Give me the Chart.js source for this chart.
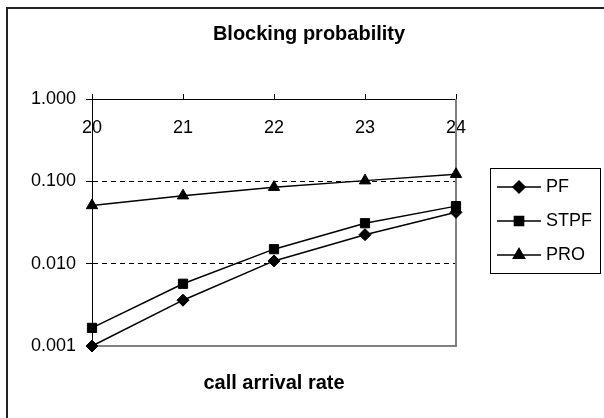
<!DOCTYPE html>
<html>
<head>
<meta charset="utf-8">
<script src="https://cdn.jsdelivr.net/npm/chart.js@4"></script>
<style>
  body { margin: 0; background: #fff; }
  #wrap { width: 604px; height: 418px; }
</style>
</head>
<body>
<div id="wrap"><canvas id="blockingChart" width="604" height="418"></canvas></div>
<script>
// values
var arrivalRates = ['20', '21', '22', '23', '24'];
var pfValues   = [0.001,  0.0036, 0.0108, 0.0225, 0.042];
var stpfValues = [0.00166, 0.0057, 0.015, 0.031, 0.050];
var proValues  = [0.051,  0.067, 0.085, 0.102, 0.122];
var yTickValues = [0.001, 0.01, 0.1, 1];
var yTickLabels = ['0.001', '0.010', '0.100', '1.000'];

var FONT = '"Liberation Sans", Arial, sans-serif';

// frame round the whole chart (right and bottom sides fall outside the picture)
var outerFrame = {
    id: 'outerFrame',
    beforeDraw: function(chart) {
        var ctx = chart.ctx;
        ctx.save();
        ctx.fillStyle = '#fff';
        ctx.fillRect(0, 0, chart.width, chart.height);
        ctx.strokeStyle = '#222';
        ctx.lineWidth = 2;
        ctx.strokeRect(7, 8, chart.width + 20, chart.height + 20);
        ctx.restore();
    }
};

// grey right and bottom edges of the plot area
var plotBorder = {
    id: 'plotBorder',
    beforeDatasetsDraw: function(chart) {
        var a = chart.chartArea;
        var ctx = chart.ctx;
        ctx.save();
        ctx.strokeStyle = '#808080';
        ctx.lineWidth = 2;
        ctx.beginPath();
        ctx.moveTo(a.right, a.top);
        ctx.lineTo(a.right, a.bottom);
        ctx.lineTo(a.left, a.bottom);
        ctx.stroke();
        ctx.restore();
    }
};

// Excel-like legend: boxed, line with marker in the middle
var boxLegend = {
    id: 'boxLegend',
    afterDraw: function(chart) {
        var ctx = chart.ctx;
        var left = 490, top = 168, w = 110, h = 105;
        var rowY = [187, 221, 255];
        ctx.save();
        ctx.strokeStyle = '#000';
        ctx.lineWidth = 1;
        ctx.strokeRect(left + 0.5, top + 0.5, w, h);
        chart.data.datasets.forEach(function(ds, i) {
            var y = rowY[i];
            ctx.strokeStyle = '#000';
            ctx.lineWidth = 1.5;
            ctx.beginPath();
            ctx.moveTo(497, y);
            ctx.lineTo(541, y);
            ctx.stroke();
            ctx.fillStyle = '#000';
            Chart.helpers.drawPoint(ctx, {
                pointStyle: ds.pointStyle,
                radius: ds.pointRadius,
                borderWidth: 1,
                rotation: 0
            }, 519, y);
            ctx.fill();
            ctx.fillStyle = '#000';
            ctx.font = '18px ' + FONT;
            ctx.textBaseline = 'middle';
            ctx.textAlign = 'left';
            ctx.fillText(ds.label, 546, y);
        });
        ctx.restore();
    }
};

var ctx = document.getElementById('blockingChart').getContext('2d');
new Chart(ctx, {
    type: 'line',
    data: {
        labels: arrivalRates,
        datasets: [
            { label: 'PF', data: pfValues, pointStyle: 'rectRot', pointRadius: 6 },
            { label: 'STPF', data: stpfValues, pointStyle: 'rect', pointRadius: 6.5 },
            { label: 'PRO', data: proValues, pointStyle: 'triangle', pointRadius: 6.5 }
        ].map(function(ds) {
            ds.borderColor = '#000';
            ds.backgroundColor = '#000';
            ds.pointBackgroundColor = '#000';
            ds.pointBorderColor = '#000';
            ds.borderWidth = 1.5;
            ds.pointBorderWidth = 1;
            ds.tension = 0;
            ds.clip = false;
            ds.yAxisID = 'y';
            return ds;
        })
    },
    options: {
        responsive: false,
        animation: false,
        devicePixelRatio: 1,
        layout: { padding: { left: 14, right: 0, top: 0, bottom: 0 } },
        scales: {
            x: {
                type: 'category',
                position: { y: 1 },
                offset: false,
                grid: { display: true, drawOnChartArea: false, drawTicks: true, tickLength: -6, tickColor: '#000' },
                border: { display: true, color: '#000', width: 1 },
                ticks: { color: '#000', padding: 24, font: { family: FONT, size: 18 }, maxRotation: 0 }
            },
            y: {
                type: 'logarithmic',
                position: 'left',
                min: 0.001,
                max: 1,
                afterBuildTicks: function(scale) {
                    scale.ticks = yTickValues.map(function(v) { return { value: v }; });
                },
                afterFit: function(scale) { scale.width = 78; },
                grid: {
                    color: function(c) {
                        if (!c.tick) return 'rgba(0,0,0,0)';
                        var v = c.tick.value;
                        return (v > 0.001 && v < 1) ? '#000' : 'rgba(0,0,0,0)';
                    },
                    lineWidth: 1,
                    tickColor: '#000',
                    tickLength: 6,
                    tickBorderDash: []
                },
                border: { display: true, color: '#000', width: 1, dash: [5, 4] },
                ticks: {
                    color: '#000',
                    padding: 10,
                    font: { family: FONT, size: 18 },
                    callback: function(value) {
                        return yTickLabels[yTickValues.indexOf(value)];
                    }
                }
            },
            rightSpace: {
                type: 'linear',
                position: 'right',
                display: true,
                ticks: { display: false },
                grid: { display: false },
                border: { display: false },
                afterFit: function(scale) { scale.width = 148; }
            }
        },
        plugins: {
            legend: { display: false },
            tooltip: { enabled: false },
            title: {
                display: true,
                text: 'Blocking probability',
                color: '#000',
                font: { family: FONT, size: 20, weight: 'bold', lineHeight: 1.2 },
                padding: { top: 22, bottom: 53 }
            },
            subtitle: {
                display: true,
                position: 'bottom',
                fullSize: false,
                text: 'call arrival rate',
                color: '#000',
                font: { family: FONT, size: 20, weight: 'bold', lineHeight: 1.2 },
                padding: { top: 25, bottom: 23 }
            }
        }
    },
    plugins: [outerFrame, plotBorder, boxLegend]
});
</script>
</body>
</html>
